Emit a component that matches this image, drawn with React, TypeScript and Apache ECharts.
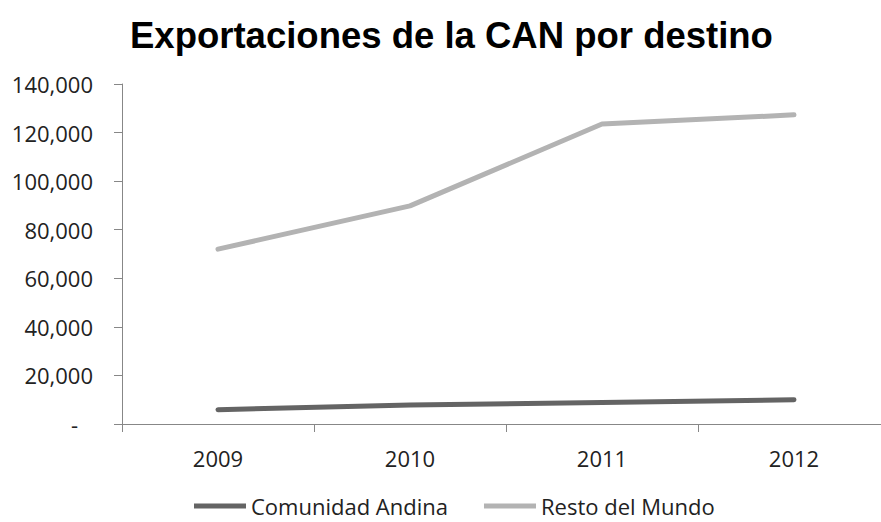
import React, { useEffect, useRef } from "react";
import * as echarts from "echarts";

const years = ["2009", "2010", "2011", "2012"];
const comunidadAndina = [5900, 7800, 8900, 10000];
const restoDelMundo = [72000, 89800, 123500, 127300];
const yTicks = { min: 0, max: 140000, interval: 20000 };

export default function App() {
  const ref = useRef<HTMLDivElement>(null);
  useEffect(() => {
    const chart = echarts.init(ref.current!, null, { renderer: "svg" });
    const font = "'Open Sans', 'Liberation Sans', sans-serif";
    chart.setOption({
      animation: false,
      backgroundColor: "#ffffff",
      title: {
        text: "Exportaciones de la CAN por destino",
        left: 125,
        top: 12,
        textStyle: {
          fontFamily: "'Liberation Sans', Arial, sans-serif",
          fontWeight: "bold",
          fontSize: 36.5,
          color: "#000000",
        },
      },
      grid: {
        left: 122,
        width: 768,
        top: 84,
        bottom: 98,
        outerBoundsMode: "none",
        containLabel: false,
      },
      legend: {
        bottom: 0,
        left: 189,
        itemWidth: 52,
        itemHeight: 5,
        itemGap: 36,
        icon: "rect",
        textStyle: { fontFamily: font, fontSize: 22, color: "#222222" },
        data: ["Comunidad Andina", "Resto del Mundo"],
      },
      xAxis: {
        type: "category",
        data: years,
        boundaryGap: true,
        axisLine: { lineStyle: { color: "#878787", width: 1 } },
        axisTick: { show: true, length: 8, lineStyle: { color: "#878787" } },
        axisLabel: {
          fontFamily: font,
          fontSize: 22,
          color: "#222222",
          margin: 23,
        },
      },
      yAxis: {
        type: "value",
        min: yTicks.min,
        max: yTicks.max,
        interval: yTicks.interval,
        splitLine: { show: false },
        axisLine: { show: true, lineStyle: { color: "#878787", width: 1 } },
        axisTick: { show: true, length: 8, lineStyle: { color: "#878787" } },
        axisLabel: {
          fontFamily: font,
          fontSize: 22,
          color: "#222222",
          margin: 29,
          formatter: (v: number) =>
            v === 0 ? "{d|-}" : v.toLocaleString("en-US"),
          rich: {
            d: {
              fontFamily: font,
              fontSize: 22,
              color: "#222222",
              padding: [0, 15, 0, 0],
            },
          },
        },
      },
      series: [
        {
          name: "Comunidad Andina",
          type: "line",
          data: comunidadAndina,
          symbol: "none",
          lineStyle: { color: "#646464", width: 5, cap: "round" },
          itemStyle: { color: "#646464" },
        },
        {
          name: "Resto del Mundo",
          type: "line",
          data: restoDelMundo,
          symbol: "none",
          lineStyle: { color: "#b3b3b3", width: 5, cap: "round" },
          itemStyle: { color: "#b3b3b3" },
        },
      ],
    });
    return () => chart.dispose();
  }, []);
  return (
    <div
      ref={ref}
      style={{ position: "fixed", left: 0, top: 0, width: 881, height: 522 }}
    />
  );
}
